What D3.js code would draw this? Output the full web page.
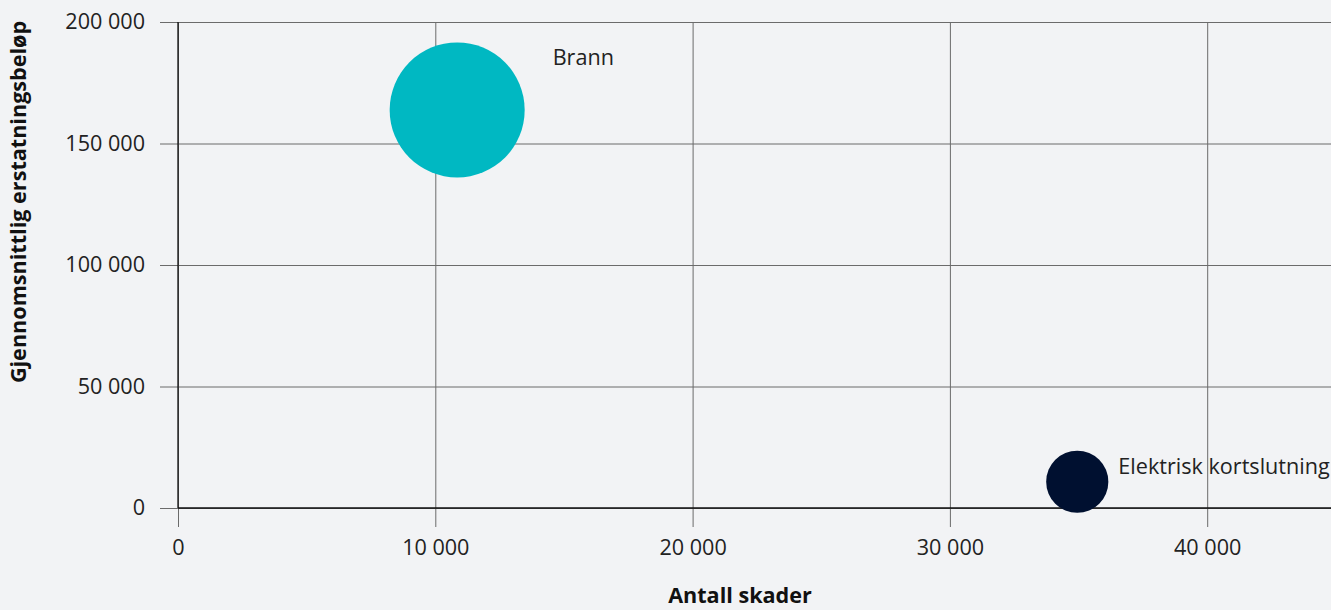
<!DOCTYPE html>
<html><head><meta charset="utf-8">
<script src="https://cdn.jsdelivr.net/npm/d3@7"></script>
<style>html,body{margin:0;padding:0;background:#f2f3f5;}svg{display:block;font-family:"Open Sans",sans-serif;}</style>
</head><body><svg id="c" width="1331" height="610"></svg>
<script>
const categories = ["Brann", "Elektrisk kortslutning"];
const antallSkader = [10850, 34950];
const snittBelop = [163800, 10800];
const totalBelop = [1777e6, 377e6];
const colors = ["#00b8c2", "#001030"];
const xTicks = [0, 10000, 20000, 30000, 40000];
const yTicks = [0, 50000, 100000, 150000, 200000];

const svg = d3.select("#c");
const W = 1331, H = 610;
const FS = 21.6;
const m = {l: 178, t: 22, b: 102};
const x = d3.scaleLinear().domain([0, 45000]).range([m.l, m.l + 4.5 * 257.3]);
const y = d3.scaleLinear().domain([0, 200000]).range([H - m.b, m.t]);
const r = d3.scaleSqrt().domain([0, 1777e6]).range([0, 67.5]);
const fmt = v => d3.format(",")(v).replace(/,/g, " ");

// horizontal grid
const gy = svg.append("g").attr("transform", `translate(${m.l},0)`)
  .call(d3.axisLeft(y).tickValues(yTicks).tickFormat(fmt).tickSize(-(W - m.l)).tickSizeOuter(0).tickPadding(33));
gy.select(".domain").remove();
gy.selectAll(".tick line").attr("x1", -18).attr("stroke", "#6b6b6b").attr("stroke-width", 1);
gy.selectAll(".tick text").attr("font-size", FS).attr("fill", "#222").attr("font-family", "Open Sans");

// vertical grid
const gx = svg.append("g").attr("transform", `translate(0,${H - m.b})`)
  .call(d3.axisBottom(x).tickValues(xTicks).tickFormat(fmt).tickSize(-(H - m.b - m.t)).tickSizeOuter(0).tickPadding(32));
gx.select(".domain").remove();
gx.selectAll(".tick line").attr("y1", 19).attr("stroke", "#6b6b6b").attr("stroke-width", 1);
gx.selectAll(".tick text").attr("font-size", FS).attr("fill", "#222").attr("font-family", "Open Sans");

// axis lines
svg.append("line").attr("x1", x(0)).attr("x2", x(0)).attr("y1", y(200000)).attr("y2", y(0)).attr("stroke", "#111").attr("stroke-width", 1.3);
svg.append("line").attr("x1", x(0)).attr("x2", W).attr("y1", y(0)).attr("y2", y(0)).attr("stroke", "#111").attr("stroke-width", 1.3);

const data = categories.map((c, i) => ({c, x: antallSkader[i], y: snittBelop[i], s: totalBelop[i], col: colors[i]}));
svg.append("g").selectAll("circle").data(data).join("circle")
  .attr("cx", d => x(d.x)).attr("cy", d => y(d.y)).attr("r", d => r(d.s)).attr("fill", d => d.col);

svg.append("g").selectAll("text").data(data).join("text")
  .attr("x", d => x(d.x) + r(d.s) + 28 - (d.c === "Brann" ? 0 : 18))
  .attr("y", d => y(d.y) - (d.c === "Brann" ? 45 : 8))
  .attr("font-size", FS).attr("fill", "#222").text(d => d.c);

svg.append("text").attr("x", 740).attr("y", 603).attr("text-anchor", "middle")
  .attr("font-size", FS).attr("font-weight", 700).attr("fill", "#111").text("Antall skader");
svg.append("text").attr("transform", "translate(26,202) rotate(-90)").attr("text-anchor", "middle")
  .attr("font-size", FS).attr("font-weight", 700).attr("fill", "#111").text("Gjennomsnittlig erstatningsbeløp");
</script></body></html>
